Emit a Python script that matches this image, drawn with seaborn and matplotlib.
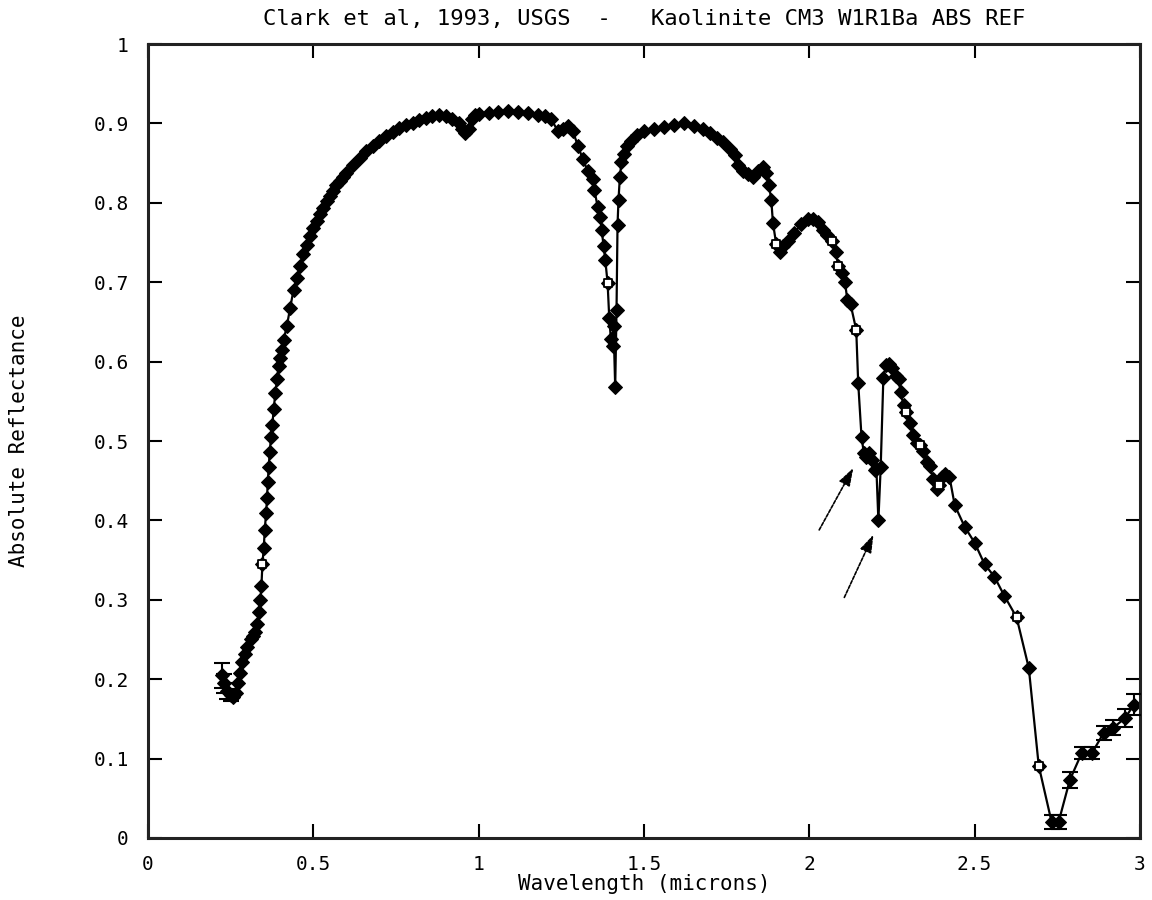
import numpy as np
import pandas as pd
import matplotlib
matplotlib.use("Agg")
import matplotlib.pyplot as plt
import seaborn as sns
from matplotlib.ticker import FuncFormatter

# Kaolinite CM3 reflectance spectrum (wavelength in microns, absolute reflectance)
wavelength = [
    0.224, 0.230, 0.240, 0.250, 0.258, 0.265, 0.272, 0.278, 0.285, 0.292,
    0.300, 0.310, 0.318, 0.325, 0.330, 0.336, 0.340, 0.343, 0.346, 0.350,
    0.353, 0.357, 0.360, 0.362, 0.365, 0.368, 0.372, 0.376, 0.380, 0.385,
    0.390, 0.395, 0.400, 0.405, 0.410, 0.420, 0.430, 0.440, 0.450, 0.460,
    0.470, 0.480, 0.490, 0.500, 0.510, 0.520, 0.530, 0.540, 0.550, 0.560,
    0.570, 0.580, 0.590, 0.600, 0.620, 0.640, 0.660, 0.680, 0.700, 0.720,
    0.740, 0.760, 0.780, 0.800, 0.820, 0.840, 0.860, 0.880, 0.900, 0.920,
    0.940, 0.950, 0.960, 0.970, 0.980, 0.990, 1.000, 1.030, 1.060, 1.090,
    1.120, 1.150, 1.180, 1.200, 1.220, 1.240, 1.255, 1.270, 1.285, 1.300,
    1.315, 1.330, 1.345, 1.350, 1.360, 1.368, 1.372, 1.378, 1.383, 1.390,
    1.395, 1.400, 1.405, 1.408, 1.413, 1.417, 1.420, 1.423, 1.427, 1.432,
    1.440, 1.450, 1.460, 1.480, 1.500, 1.530, 1.560, 1.590, 1.620, 1.650,
    1.680, 1.700, 1.720, 1.740, 1.760, 1.775, 1.785, 1.800, 1.815, 1.830,
    1.845, 1.860, 1.870, 1.878, 1.885, 1.890, 1.900, 1.910, 1.920, 1.935,
    1.955, 1.975, 1.995, 2.010, 2.025, 2.040, 2.055, 2.070, 2.080, 2.088,
    2.100, 2.108, 2.115, 2.125, 2.142, 2.148, 2.158, 2.165, 2.172, 2.182,
    2.190, 2.198, 2.203, 2.209, 2.216, 2.224, 2.232, 2.240, 2.250, 2.262,
    2.270, 2.276, 2.285, 2.294, 2.305, 2.315, 2.325, 2.335, 2.345, 2.355,
    2.365, 2.375, 2.385, 2.392, 2.400, 2.410, 2.424, 2.440, 2.470, 2.500,
    2.530, 2.560, 2.590, 2.627, 2.664, 2.694, 2.733, 2.754, 2.788, 2.824,
    2.855, 2.890, 2.920, 2.955, 2.982,
]
reflectance = [
    0.205, 0.195, 0.185, 0.180, 0.178, 0.182, 0.195, 0.208, 0.222, 0.232,
    0.241, 0.250, 0.255, 0.260, 0.270, 0.285, 0.300, 0.318, 0.345, 0.365,
    0.388, 0.409, 0.428, 0.448, 0.467, 0.486, 0.505, 0.520, 0.540, 0.560,
    0.578, 0.595, 0.605, 0.615, 0.627, 0.645, 0.668, 0.690, 0.705, 0.720,
    0.735, 0.747, 0.758, 0.768, 0.777, 0.786, 0.794, 0.802, 0.808, 0.815,
    0.822, 0.828, 0.833, 0.838, 0.848, 0.857, 0.865, 0.872, 0.878, 0.884,
    0.889, 0.894, 0.898, 0.901, 0.904, 0.907, 0.909, 0.910, 0.909, 0.906,
    0.900, 0.893, 0.888, 0.893, 0.905, 0.910, 0.912, 0.913, 0.914, 0.915,
    0.914, 0.913, 0.911, 0.909, 0.905, 0.890, 0.893, 0.897, 0.890, 0.872,
    0.855, 0.840, 0.830, 0.816, 0.795, 0.782, 0.766, 0.745, 0.728, 0.699,
    0.655, 0.628, 0.620, 0.645, 0.568, 0.665, 0.772, 0.804, 0.832, 0.852,
    0.862, 0.872, 0.878, 0.886, 0.890, 0.893, 0.895, 0.898, 0.900, 0.897,
    0.893, 0.888, 0.882, 0.876, 0.868, 0.860, 0.847, 0.840, 0.836, 0.832,
    0.840, 0.845, 0.838, 0.822, 0.804, 0.775, 0.748, 0.738, 0.745, 0.752,
    0.762, 0.773, 0.779, 0.780, 0.776, 0.766, 0.760, 0.752, 0.738, 0.720,
    0.711, 0.700, 0.678, 0.672, 0.640, 0.573, 0.505, 0.485, 0.480, 0.485,
    0.476, 0.463, 0.465, 0.400, 0.467, 0.579, 0.596, 0.597, 0.592, 0.582,
    0.578, 0.562, 0.545, 0.537, 0.523, 0.508, 0.497, 0.495, 0.488, 0.474,
    0.468, 0.452, 0.440, 0.445, 0.455, 0.458, 0.455, 0.419, 0.392, 0.372,
    0.345, 0.329, 0.305, 0.278, 0.214, 0.091, 0.020, 0.020, 0.073, 0.107,
    0.107, 0.132, 0.139, 0.151, 0.168,
]

# Channels carrying visible error bars (wavelength, +/- reflectance)
errbar_wl = [0.224, 0.230, 0.240, 0.250, 2.733, 2.754, 2.788, 2.824, 2.855,
             2.890, 2.920, 2.955, 2.982]
errbar_size = [0.016, 0.012, 0.010, 0.008, 0.009, 0.009, 0.010, 0.008, 0.008,
               0.009, 0.009, 0.011, 0.013]

# Channels drawn with open-square symbols
square_wl = [0.346, 1.390, 1.900, 2.070, 2.088, 2.142, 2.294, 2.335, 2.392,
             2.627, 2.694]

title = "Clark et al, 1993, USGS  -   Kaolinite CM3 W1R1Ba ABS REF"
x_label = "Wavelength (microns)"
y_label = "Absolute Reflectance"
x_ticks = [0, 0.5, 1, 1.5, 2, 2.5, 3]
y_ticks = [0, 0.1, 0.2, 0.3, 0.4, 0.5, 0.6, 0.7, 0.8, 0.9, 1]

# Arrows marking the 2.16 / 2.21 micron doublet
arrow_tail_x = [2.030, 2.106]
arrow_tail_y = [0.388, 0.303]
arrow_head_x = [2.133, 2.194]
arrow_head_y = [0.466, 0.382]

df = pd.DataFrame({"wavelength": wavelength, "reflectance": reflectance})
lookup = dict(zip(wavelength, reflectance))

sns.set_theme(style="ticks")
plt.rcParams["font.family"] = ["DejaVu Sans Mono", "DejaVu Sans"]

fig = plt.figure(figsize=(11.52, 9.0), dpi=100)
ax = fig.add_axes([0.1285, 0.0689, 0.861, 0.8822])

sns.lineplot(data=df, x="wavelength", y="reflectance", ax=ax, sort=False,
             estimator=None, color="black", linewidth=1.6, marker="D",
             markersize=6.8, markeredgecolor="black", markerfacecolor="black")

sq = pd.DataFrame({"wavelength": square_wl,
                   "reflectance": [lookup[w] for w in square_wl]})
sns.scatterplot(data=sq, x="wavelength", y="reflectance", ax=ax, marker="s",
                s=34, facecolor="white", edgecolor="black", linewidth=1.3,
                zorder=5)

ax.errorbar(errbar_wl, [lookup[w] for w in errbar_wl], yerr=errbar_size,
            fmt="none", ecolor="black", elinewidth=1.5, capsize=6,
            capthick=1.5, zorder=4)

for tx, ty, hx, hy in zip(arrow_tail_x, arrow_tail_y, arrow_head_x, arrow_head_y):
    ax.annotate("", xy=(hx, hy), xytext=(tx, ty),
                arrowprops=dict(arrowstyle="-|>,head_length=0.9,head_width=0.3",
                                color="black", lw=1.2, linestyle=(0, (2, 1)),
                                shrinkA=0, shrinkB=0))

ax.set_xlim(0, 3)
ax.set_ylim(0, 1)
ax.set_xticks(x_ticks)
ax.set_yticks(y_ticks)
ax.xaxis.set_major_formatter(FuncFormatter(lambda v, p: f"{v:g}"))
ax.yaxis.set_major_formatter(FuncFormatter(lambda v, p: f"{v:g}"))
ax.tick_params(axis="both", which="major", direction="in", length=10,
               width=1.5, color="black", labelsize=14, labelcolor="black",
               top=True, right=True, pad=14)
ax.tick_params(axis="x", pad=12)
for side in ["left", "right", "top", "bottom"]:
    ax.spines[side].set_visible(True)
    ax.spines[side].set_linewidth(2.2)
    ax.spines[side].set_color("#222222")

ax.set_xlabel(x_label, fontsize=15, color="black", labelpad=0)
ax.set_ylabel(y_label, fontsize=15, color="black", labelpad=46)
ax.set_title(title, fontsize=16, color="black", pad=14)
ax.grid(False)

fig.savefig("out.png", dpi=100, facecolor="white")
